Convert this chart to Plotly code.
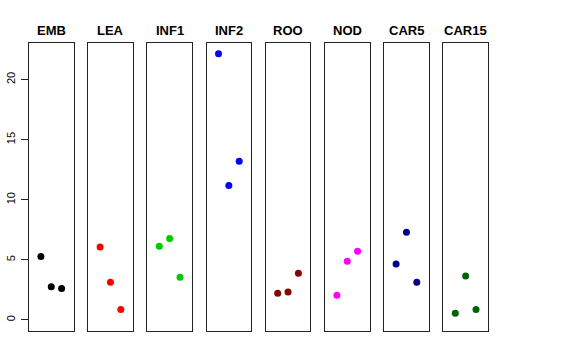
import plotly.graph_objects as go

categories = ["EMB", "LEA", "INF1", "INF2", "ROO", "NOD", "CAR5", "CAR15"]
colors = ["#000000", "#FF0000", "#00CD00", "#0000FF", "#8B0000", "#FF00FF", "#00008B", "#006400"]
positions = [1, 2, 3]
values = [
    [5.27, 2.77, 2.61],
    [6.07, 3.13, 0.86],
    [6.13, 6.77, 3.55],
    [22.16, 11.18, 13.20],
    [2.22, 2.33, 3.88],
    [2.05, 4.88, 5.71],
    [4.66, 7.30, 3.13],
    [0.55, 3.66, 0.86],
]
y_ticks = [0, 5, 10, 15, 20]

W, H = 576, 360
left0, step, pw = 29.0, 59.2, 44.5
top_px, bot_px = 42.7, 331.0
title_px = 30.0

fig = go.Figure()
for i, (cat, col, vals) in enumerate(zip(categories, colors, values)):
    n = i + 1
    xa = "x" if n == 1 else f"x{n}"
    ya = "y" if n == 1 else f"y{n}"
    fig.add_trace(go.Scatter(x=positions, y=vals, mode="markers",
                             marker=dict(color=col, size=7),
                             xaxis=xa, yaxis=ya, showlegend=False))
    x0 = left0 + i * step
    x1 = x0 + pw
    xkey = "xaxis" if n == 1 else f"xaxis{n}"
    ykey = "yaxis" if n == 1 else f"yaxis{n}"
    fig.layout[xkey] = dict(domain=[x0 / W, x1 / W], range=[-0.15, 4.15],
                            showline=True, mirror=True, linecolor="#222", linewidth=1,
                            showgrid=False, zeroline=False, showticklabels=False,
                            ticks="", anchor=ya, fixedrange=True)
    ydict = dict(domain=[(H - bot_px) / H, (H - top_px) / H], range=[-0.92, 23.07],
                 showline=True, mirror=True, linecolor="#222", linewidth=1,
                 showgrid=False, zeroline=False, anchor=xa, fixedrange=True)
    if n == 1:
        ydict.update(tickvals=y_ticks, ticktext=[str(t) for t in y_ticks],
                     ticks="outside", ticklen=7, tickcolor="#222", tickangle=-90,
                     tickfont=dict(family="Liberation Sans, Arial, sans-serif", size=11, color="#000"),
                     ticklabelstandoff=2, automargin=False)
    else:
        ydict.update(showticklabels=False, ticks="")
    fig.layout[ykey] = ydict
    fig.add_annotation(x=(x0 + x1) / 2 / W, y=(H - title_px) / H, xref="paper", yref="paper",
                       text=f"<b>{cat}</b>", showarrow=False, xanchor="center", yanchor="middle",
                       font=dict(family="Liberation Sans, Arial, sans-serif", size=13, color="#000"))

fig.update_layout(width=W, height=H, margin=dict(l=0, r=0, t=0, b=0),
                  paper_bgcolor="white", plot_bgcolor="white", hovermode=False)
fig.write_html("out.html", config={"displayModeBar": False, "staticPlot": True},
               post_script="document.body.style.margin='0';document.body.style.padding='0';")
